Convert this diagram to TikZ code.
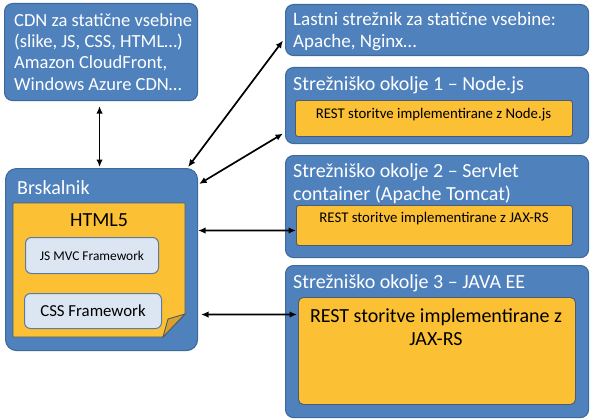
\documentclass[tikz,border=0pt]{standalone}
\usepackage{fontspec}
\setmainfont{Carlito}
\usetikzlibrary{arrows.meta,calc}
\definecolor{boxblue}{HTML}{4F81BD}
\definecolor{boxedge}{HTML}{3E6A9A}
\definecolor{gold}{HTML}{FBC034}
\definecolor{golddark}{HTML}{D9A02B}
\definecolor{goldedge}{HTML}{4E5A6E}
\definecolor{pale}{HTML}{DCE6F2}
\definecolor{paleedge}{HTML}{5B7BA5}
\tikzset{
  outerbox/.style={draw=boxedge, fill=boxblue, rounded corners=8pt, line width=1.1pt, anchor=north west, inner sep=0pt},
  goldbox/.style={draw=goldedge, fill=gold, rounded corners=2.5pt, line width=0.9pt, anchor=north west, inner sep=0pt},
  palebox/.style={draw=paleedge, fill=pale, rounded corners=6pt, line width=1pt, anchor=north west, inner sep=0pt},
  wtext/.style={text=white, inner sep=0pt, anchor=base west, align=left},
  btext/.style={text=black, inner sep=0pt, anchor=base, align=center},
  arr/.style={{Latex[length=7.5pt,width=6.5pt]}-{Latex[length=7.5pt,width=6.5pt]}, line width=1.7pt, black},
}
\begin{document}
\begin{tikzpicture}[x=1pt,y=-1pt]
\useasboundingbox (0,0) rectangle (594,420);
% CDN
\node[outerbox, minimum width=193pt, minimum height=97pt] (cdn) at (4,3) {};
\node[wtext, font=\fontsize{18.5}{21.5}\selectfont] (cdntxt) at (14,90.5) {CDN za statične vsebine\\(slike, JS, CSS, HTML…)\\Amazon CloudFront,\\Windows Azure CDN…};
% Browser
\node[outerbox, rounded corners=11pt, minimum width=192pt, minimum height=182pt] (brsk) at (5,168) {};
\node[wtext, font=\fontsize{20}{24}\selectfont] (brsktxt) at (17,194) {Brskalnik};
\path[draw=goldedge, fill=gold, line width=0.9pt] (13,203) -- (185,203) -- (185,314) -- (163,337) -- (13,337) -- cycle;
\path[draw=goldedge, fill=golddark, line width=0.9pt] (185,314) -- (168,319) -- (163,337) -- cycle;
\node[btext, font=\fontsize{20}{24}\selectfont] (html) at (99,226) {HTML5};
\node[palebox, minimum width=133pt, minimum height=36pt, font=\fontsize{13.4}{16}\selectfont] (jsmvc) at (25,237) {JS MVC Framework};
\node[palebox, minimum width=137pt, minimum height=35pt, font=\fontsize{16.8}{20}\selectfont] (css) at (24,293) {CSS Framework};
% Right column
\node[outerbox, minimum width=303pt, minimum height=51pt] (lastni) at (285,4) {};
\node[wtext, font=\fontsize{19}{21.5}\selectfont] (lastnitxt) at (293,47.5) {Lastni strežnik za statične vsebine:\\Apache, Nginx…};
\node[outerbox, minimum width=303pt, minimum height=76pt] (nodebox) at (285,67) {};
\node[wtext, font=\fontsize{20}{24}\selectfont] (nodetxt) at (293,90) {Strežniško okolje 1 – Node.js};
\node[goldbox, minimum width=277pt, minimum height=36pt] (nodein) at (295,100) {};
\node[btext, font=\fontsize{14.8}{18}\selectfont] (nodeintxt) at (433.5,118) {REST storitve implementirane z Node.js};
\node[outerbox, minimum width=303pt, minimum height=102pt] (srv) at (285,155) {};
\node[wtext, font=\fontsize{20}{23}\selectfont] (srvtxt) at (293,200) {Strežniško okolje 2 – Servlet\\container (Apache Tomcat)};
\node[goldbox, minimum width=276pt, minimum height=40pt] (srvin) at (296,205) {};
\node[btext, font=\fontsize{14.8}{18}\selectfont] (srvintxt) at (434,222) {REST storitve implementirane z JAX-RS};
\node[outerbox, minimum width=303pt, minimum height=152pt] (jee) at (285,265) {};
\node[wtext, font=\fontsize{20}{24}\selectfont] (jeetxt) at (293,288) {Strežniško okolje 3 – JAVA EE};
\node[goldbox, rounded corners=5pt, minimum width=277pt, minimum height=107pt] (jeein) at (298,297) {};
\node[btext, font=\fontsize{20}{23}\selectfont] (jeeintxt) at (436,345) {REST storitve implementirane z\\JAX-RS};
% Connectors
\draw[arr] ($(cdn.south)+(-1.5,5)$) -- ($(brsk.north)+(-2,-1)$);
\draw[arr] ($(lastni.west)+(-2,10.5)$) -- ($(brsk.north east)+(-10,-1)$);
\draw[arr] ($(nodebox.west)+(-2,28)$) -- ($(brsk.north east)+(1,16)$);
\draw[arr] ($(brsk.east)+(0,-29)$) -- ($(srvin.west)+(0,5)$);
\draw[arr] ($(brsk.east)+(3,55)$) -- ($(jeein.west)+(-1,-36.5)$);
\end{tikzpicture}
\end{document}
